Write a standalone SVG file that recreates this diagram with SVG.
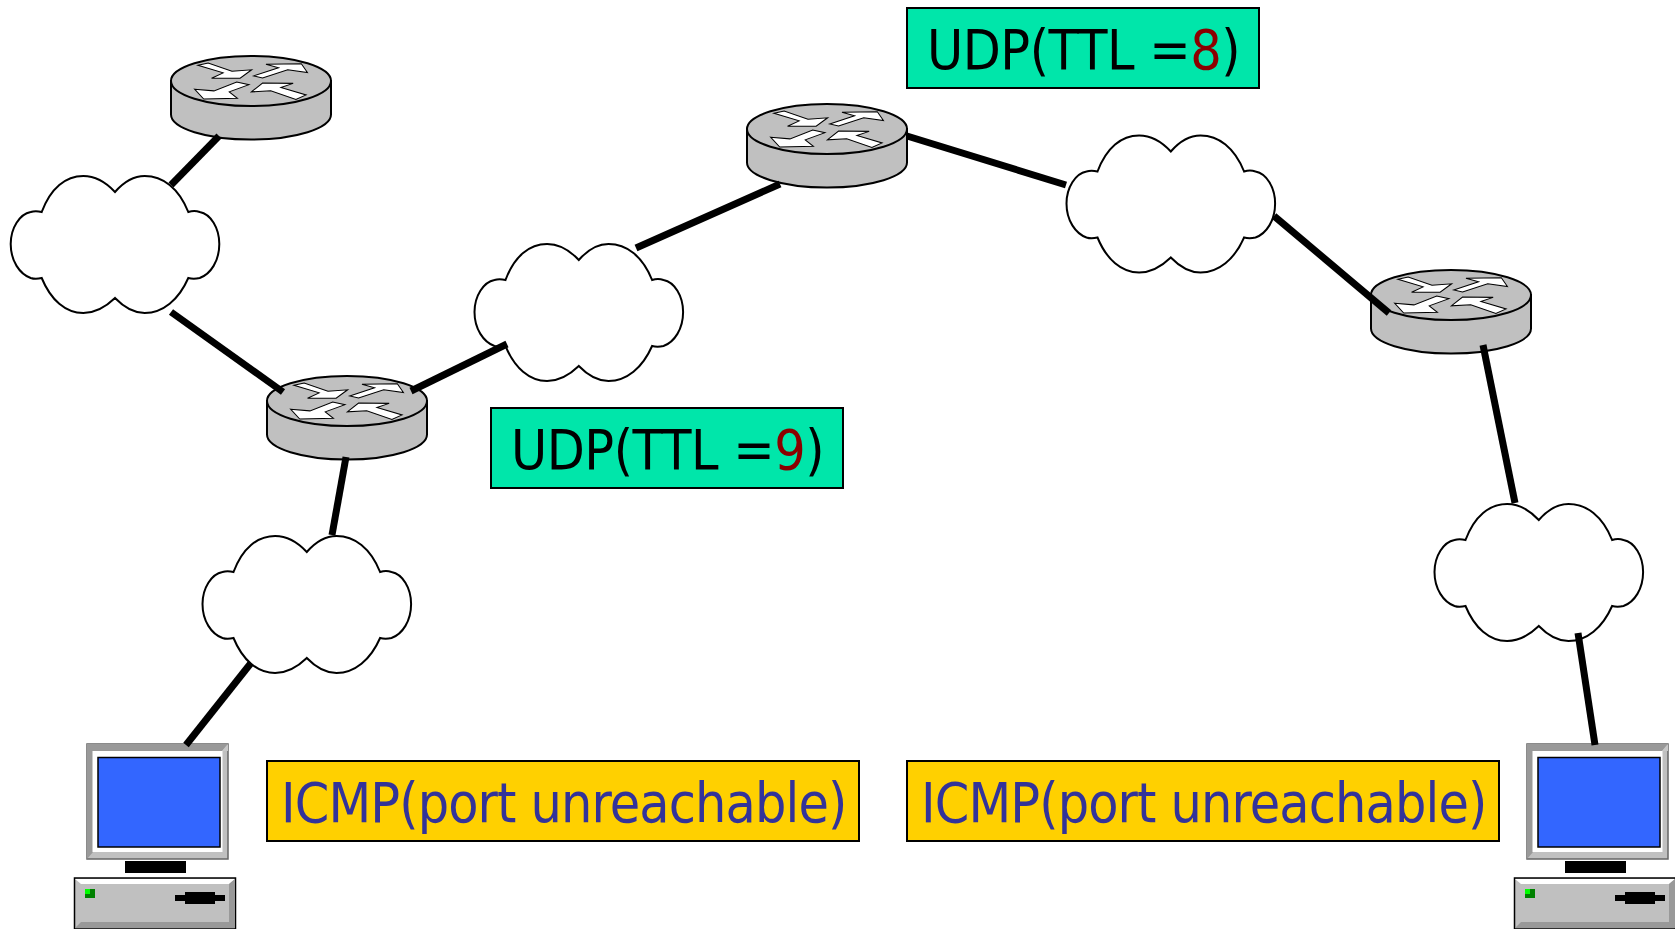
<svg xmlns="http://www.w3.org/2000/svg" width="1675" height="929" viewBox="0 0 1675 929">
<style>
.lbl{font-family:"DejaVu Sans Condensed","DejaVu Sans",sans-serif;font-size:55px;font-stretch:condensed}
.u{letter-spacing:-.5px}
.i{letter-spacing:-.87px;fill:#333399}
.udp{fill:#00E6AA;stroke:#000;stroke-width:2}
.icmp{fill:#FFD000;stroke:#000;stroke-width:2}
.link{stroke:#000;stroke-width:7;fill:none}
.cloud{fill:#fff;stroke:#000;stroke-width:2}
</style>
<defs>
<g id="router">
<path d="M-80,0V33.500A80,25 0 0 0 80,33.500V0Z" fill="#C0C0C0" stroke="#000" stroke-width="2"/>
<ellipse cx="0" cy="0" rx="80" ry="25" fill="#C0C0C0" stroke="#000" stroke-width="2"/>
<g transform="scale(.34) translate(-304,-121)" fill="#fff" stroke="#000" stroke-width="3">
<polygon points="148,75 178,68 248,92 306,88 272,113 188,113 222,97"/>
<polygon points="312,106 385,82 348,72 452,70 470,96 412,88 338,112"/>
<polygon points="138,145 195,150 262,124 298,132 240,153 264,172 165,174"/>
<polygon points="305,153 338,127 428,128 392,140 466,162 436,175 362,150"/>
</g>
</g>
<path id="cloud" class="cloud" d="M31,36C40,12 55,0 72.6,0C85,0 95,6 104.3,16C113,6 122,0 134,0C152,0 168,12 177.6,36C181,35 186,35 189,36C200,38 208.6,52 208.6,68C208.6,85 200,98 189,102C185,103 181,103 177.6,102C168,124 152,137 134,137C122,137 113,131 104.3,122C95,131 85,137 72.6,137C55,137 40,124 31,102C27,103 23,103 20,102C9,98 0,85 0,68C0,52 9,38 20,36C23,35 27,35 31,36Z"/>
<g id="computer">
<rect x="87" y="744" width="141" height="115" fill="#C0C0C0" stroke="#666" stroke-width="1.5"/>
<polygon points="87,744 228,744 222,751 93,751 93,852 87,859" fill="#999"/>
<polygon points="228,744 228,751 222,751" fill="#C8C8C8"/>
<rect x="92.500" y="751" width="130" height="101" fill="#fff"/>
<rect x="98" y="757.500" width="122" height="89.500" fill="#3366FF" stroke="#000" stroke-width="1.500"/>
<rect x="125" y="861" width="61" height="12" fill="#000"/>
<rect x="74.500" y="878" width="161" height="51" fill="#C0C0C0" stroke="#000" stroke-width="1.500"/>
<polygon points="75,879 235,879 229,884 81,884" fill="#fff"/>
<polygon points="235,879 235,928 75,928 81,922 229,922 229,884" fill="#999"/>
<rect x="85" y="889" width="10" height="9" fill="#008000"/>
<rect x="85" y="889" width="5" height="5" fill="#00FF00"/>
<rect x="175" y="895" width="50" height="6" fill="#000"/>
<rect x="185" y="892" width="30" height="12" fill="#000"/>
</g>
</defs>
<g id="router1"><use href="#router" x="251" y="81"/></g>
<g id="router2"><use href="#router" x="347" y="401"/></g>
<g id="router3"><use href="#router" x="827" y="129"/></g>
<g id="router4"><use href="#router" x="1451" y="295"/></g>
<g id="cloud1"><use href="#cloud" x="10.700" y="176"/></g>
<g id="cloud2"><use href="#cloud" x="474.500" y="244"/></g>
<g id="cloud3"><use href="#cloud" x="1066.500" y="135.500"/></g>
<g id="cloud4"><use href="#cloud" x="202.500" y="536"/></g>
<g id="cloud5"><use href="#cloud" x="1434.500" y="504"/></g>
<g id="host1"><use href="#computer"/></g>
<g id="host2"><use href="#computer" x="1440"/></g>
<g id="connectors">
<line class="link" x1="171" y1="185" x2="219" y2="136"/>
<line class="link" x1="171" y1="312" x2="283" y2="392"/>
<line class="link" x1="411" y1="391" x2="507" y2="344"/>
<line class="link" x1="346" y1="457" x2="332" y2="535"/>
<line class="link" x1="251" y1="663" x2="186" y2="745"/>
<line class="link" x1="636" y1="248" x2="780" y2="184"/>
<line class="link" x1="907" y1="136" x2="1066" y2="185"/>
<line class="link" x1="1274" y1="216" x2="1389" y2="313"/>
<line class="link" x1="1483" y1="345" x2="1515" y2="503"/>
<line class="link" x1="1578" y1="633" x2="1595" y2="745"/>
</g>
<g id="udp8">
<rect class="udp" x="907" y="8" width="352" height="80"/>
<text class="lbl u" x="927" y="69">UDP(TTL =<tspan fill="#8B0000">8</tspan>)</text>
</g>
<g id="udp9">
<rect class="udp" x="491" y="408" width="352" height="80"/>
<text class="lbl u" x="511" y="469">UDP(TTL =<tspan fill="#8B0000">9</tspan>)</text>
</g>
<g id="icmp1">
<rect class="icmp" x="267" y="761" width="592" height="80"/>
<text class="lbl i" x="281" y="822">ICMP(port unreachable)</text>
</g>
<g id="icmp2">
<rect class="icmp" x="907" y="761" width="592" height="80"/>
<text class="lbl i" x="921" y="822">ICMP(port unreachable)</text>
</g>
</svg>
